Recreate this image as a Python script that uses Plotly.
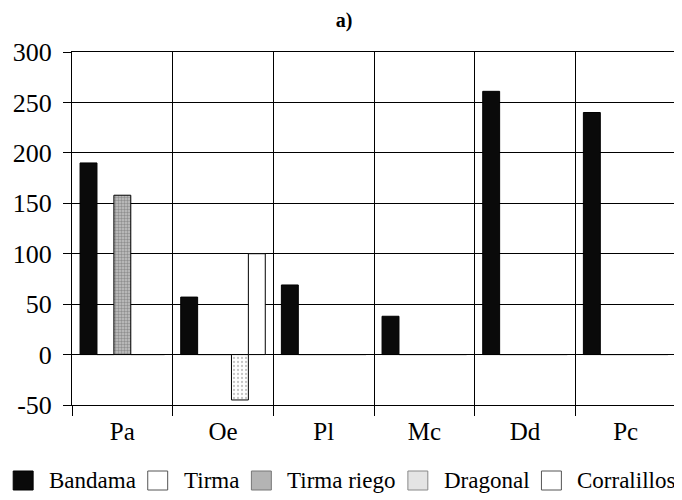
import plotly.graph_objects as go

categories = ["Pa", "Oe", "Pl", "Mc", "Dd", "Pc"]
bandama = [190, 57, 69, 38, 261, 240]
tirma = [0, 0, 0, 0, 0, 0]
tirma_riego = [158, 0, 0, 0, 0, 0]
dragonal = [0, -45, 0, 0, 0, 0]
corralillos = [0, 100, 0, 0, 0, 0]
y_ticks = [-50, 0, 50, 100, 150, 200, 250, 300]
y_tick_labels = ["-50", "0", "50", "100", "150", "200", "250", "300"]
series_names = ["Bandama", "Tirma", "Tirma riego", "Dragonal", "Corralillos"]

FONT = "Liberation Serif, Times New Roman, serif"

# the page body has an 8px margin; figure is sized to fit the 682x500 window
OFF = 8
FW, FH = 682 - OFF, 500 - OFF

bar_styles = [
    dict(color="#0a0a0a", line=dict(color="black", width=1)),
    dict(color="white", line=dict(color="black", width=1)),
    dict(color="#b0b0b0", line=dict(color="black", width=1),
         pattern=dict(shape=".", fgcolor="#5a5a5a", bgcolor="#c4c4c4", size=3, solidity=0.5)),
    dict(color="#eeeeee", line=dict(color="black", width=1),
         pattern=dict(shape=".", fgcolor="#8a8a8a", bgcolor="white", size=4, solidity=0.25)),
    dict(color="white", line=dict(color="black", width=1)),
]
legend_fill = ["#0a0a0a", "white", "#b4b4b4", "#e4e4e4", "white"]
legend_line = ["black", "#555555", "#777777", "#888888", "#555555"]
# legend item layout in window pixels: square left x, text left x
legend_sq_x = [12, 147, 251, 408, 542]
legend_tx_x = [46, 181, 285, 442, 576]

values = [bandama, tirma, tirma_riego, dragonal, corralillos]

fig = go.Figure()
for name, vals, st in zip(series_names, values, bar_styles):
    fig.add_trace(go.Bar(name=name, x=categories, y=vals, marker=st, showlegend=False))

# plot-area geometry in window pixels
L, R, T, B = 71, 677, 52, 405
W, H = R - L, B - T

def px_x(px):
    return (px - L) / W

def px_y(py):
    return (B - py) / H

shapes = []
annotations = []
for i, name in enumerate(series_names):
    sx = legend_sq_x[i]
    shapes.append(dict(type="rect", xref="paper", yref="paper",
                       x0=px_x(sx), x1=px_x(sx + 20), y0=px_y(471), y1=px_y(490),
                       fillcolor=legend_fill[i], line=dict(color=legend_line[i], width=1)))
    annotations.append(dict(text=name, xref="paper", yref="paper",
                            x=px_x(legend_tx_x[i]), y=px_y(480),
                            xanchor="left", yanchor="middle", showarrow=False,
                            font=dict(family=FONT, size=23, color="black")))

fig.update_layout(
    width=FW, height=FH,
    margin=dict(l=L - OFF, r=682 - R, t=T - OFF, b=500 - B),
    paper_bgcolor="white", plot_bgcolor="white",
    barmode="group", bargap=0.16, bargroupgap=0,
    font=dict(family=FONT, color="black"),
    title=dict(text="<b>a)</b>", x=(344 - OFF) / FW, xref="container", xanchor="center",
               y=1 - 5 / FH, yref="container", yanchor="top",
               font=dict(family=FONT, size=20, color="black")),
    showlegend=False,
    shapes=shapes,
    annotations=annotations,
)
fig.update_xaxes(
    type="category", tickson="boundaries", showgrid=True, gridcolor="black", gridwidth=1,
    ticks="outside", ticklen=10, tickcolor="black", ticklabelstandoff=4,
    showline=True, linecolor="black", mirror=True,
    tickfont=dict(family=FONT, size=25, color="black"),
)
fig.update_yaxes(
    range=[-50, 300], tickvals=y_ticks, ticktext=y_tick_labels,
    showgrid=True, gridcolor="black", gridwidth=1,
    zeroline=True, zerolinecolor="black", zerolinewidth=1,
    ticks="outside", ticklen=8, tickcolor="black", ticklabelstandoff=6,
    showline=True, linecolor="black", mirror=True,
    tickfont=dict(family=FONT, size=26, color="black"),
)

fig.write_html("out.html")
